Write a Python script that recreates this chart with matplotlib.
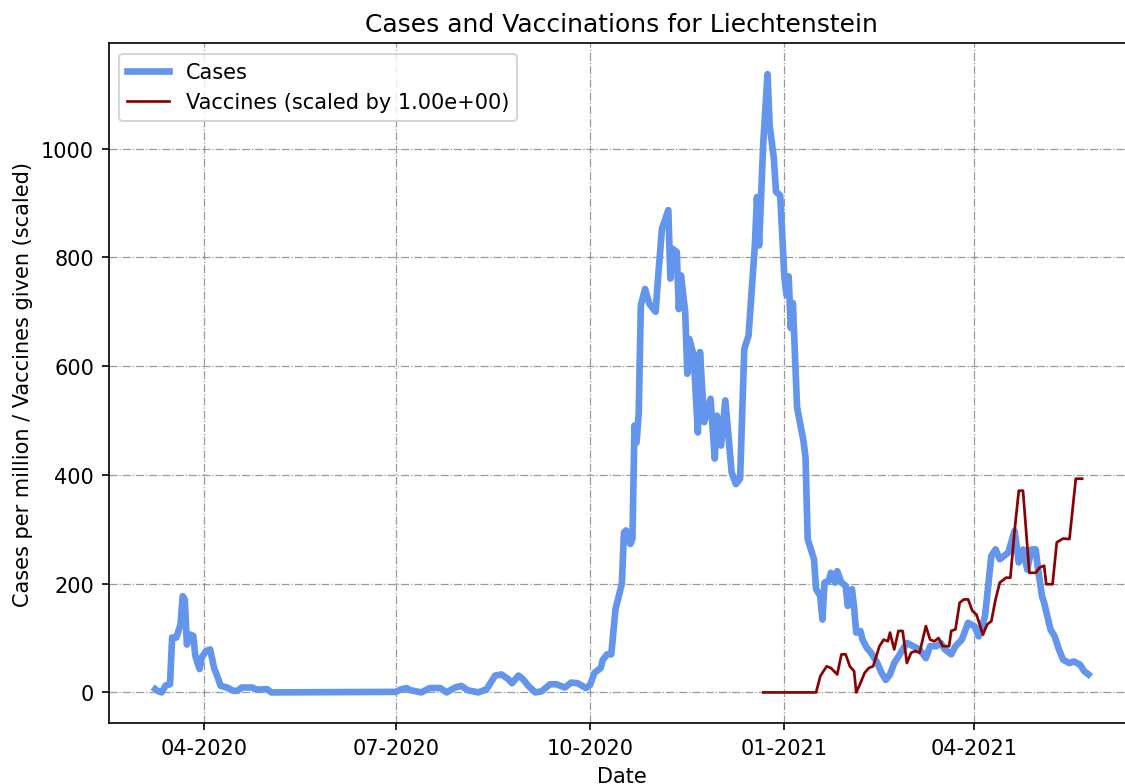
import numpy as np
import pandas as pd
import matplotlib
matplotlib.use('Agg')
import matplotlib.pyplot as plt
import matplotlib.dates as mdates

country = "Liechtenstein"
vacc_scale = 1.0

# cases per million
case_dates = [
  "2020-03-09", "2020-03-10", "2020-03-12", "2020-03-14", "2020-03-16", "2020-03-17",
  "2020-03-19", "2020-03-21", "2020-03-22", "2020-03-23", "2020-03-24", "2020-03-25",
  "2020-03-27", "2020-03-28", "2020-03-30", "2020-03-31", "2020-04-02", "2020-04-04",
  "2020-04-06", "2020-04-07", "2020-04-09", "2020-04-12", "2020-04-15", "2020-04-17",
  "2020-04-19", "2020-04-24", "2020-04-26", "2020-05-01", "2020-05-03", "2020-07-01",
  "2020-07-03", "2020-07-06", "2020-07-08", "2020-07-13", "2020-07-17", "2020-07-22",
  "2020-07-25", "2020-07-29", "2020-08-01", "2020-08-04", "2020-08-09", "2020-08-13",
  "2020-08-17", "2020-08-20", "2020-08-23", "2020-08-25", "2020-08-28", "2020-08-30",
  "2020-09-02", "2020-09-05", "2020-09-08", "2020-09-12", "2020-09-15", "2020-09-19",
  "2020-09-22", "2020-09-25", "2020-09-29", "2020-10-01", "2020-10-03", "2020-10-06",
  "2020-10-07", "2020-10-09", "2020-10-11", "2020-10-13", "2020-10-16", "2020-10-17",
  "2020-10-18", "2020-10-20", "2020-10-21", "2020-10-22", "2020-10-23", "2020-10-24",
  "2020-10-25", "2020-10-27", "2020-10-29", "2020-11-01", "2020-11-02", "2020-11-04",
  "2020-11-07", "2020-11-08", "2020-11-09", "2020-11-11", "2020-11-12", "2020-11-13",
  "2020-11-15", "2020-11-16", "2020-11-17", "2020-11-19", "2020-11-21", "2020-11-22",
  "2020-11-24", "2020-11-27", "2020-11-29", "2020-11-30", "2020-12-02", "2020-12-04",
  "2020-12-07", "2020-12-09", "2020-12-11", "2020-12-13", "2020-12-15", "2020-12-18",
  "2020-12-19", "2020-12-20", "2020-12-22", "2020-12-24", "2020-12-25", "2020-12-27",
  "2020-12-28", "2020-12-30", "2021-01-01", "2021-01-02", "2021-01-03", "2021-01-04",
  "2021-01-05", "2021-01-07", "2021-01-10", "2021-01-11", "2021-01-12", "2021-01-14",
  "2021-01-15", "2021-01-16", "2021-01-18", "2021-01-19", "2021-01-20", "2021-01-22",
  "2021-01-23", "2021-01-25", "2021-01-26", "2021-01-28", "2021-01-30", "2021-01-31",
  "2021-02-02", "2021-02-03", "2021-02-04", "2021-02-06", "2021-02-07", "2021-02-09",
  "2021-02-11", "2021-02-14", "2021-02-16", "2021-02-18", "2021-02-20", "2021-02-22",
  "2021-02-24", "2021-02-26", "2021-02-28", "2021-03-03", "2021-03-06", "2021-03-09",
  "2021-03-11", "2021-03-14", "2021-03-16", "2021-03-18", "2021-03-21", "2021-03-23",
  "2021-03-26", "2021-03-29", "2021-04-01", "2021-04-03", "2021-04-06", "2021-04-09",
  "2021-04-11", "2021-04-13", "2021-04-15", "2021-04-17", "2021-04-20", "2021-04-22",
  "2021-04-24", "2021-04-26", "2021-04-28", "2021-04-30", "2021-05-01", "2021-05-03",
  "2021-05-04", "2021-05-07", "2021-05-09", "2021-05-11", "2021-05-13", "2021-05-16",
  "2021-05-18", "2021-05-21", "2021-05-23", "2021-05-25",
]
case_values = [
  6, 3, 0, 13, 15, 101,
  101, 125, 177, 171, 88, 107,
  104, 67, 43, 64, 76, 79,
  43, 34, 12, 9, 3, 3,
  9, 9, 5, 6, 0, 1,
  5, 8, 4, 0, 8, 8,
  0, 9, 12, 4, 0, 6,
  31, 33, 25, 17, 31, 25,
  11, 0, 2, 15, 15, 9,
  18, 17, 8, 14, 36, 45,
  60, 70, 70, 153, 200, 294,
  298, 273, 282, 491, 460, 515,
  712, 742, 715, 700, 755, 853,
  887, 761, 816, 810, 705, 767,
  700, 586, 650, 620, 478, 626,
  497, 540, 430, 509, 454, 537,
  405, 383, 393, 632, 656, 822,
  911, 822, 1012, 1137, 1043, 982,
  921, 914, 762, 731, 765, 670,
  716, 524, 463, 432, 282, 257,
  245, 190, 177, 134, 202, 205,
  220, 202, 223, 202, 196, 159,
  190, 156, 110, 113, 97, 82,
  73, 54, 36, 23, 33, 54,
  66, 79, 91, 85, 79, 63,
  85, 85, 91, 79, 70, 85,
  97, 128, 122, 103, 140, 251,
  263, 245, 251, 257, 297, 239,
  263, 226, 263, 263, 230, 177,
  165, 116, 103, 79, 60, 54,
  57, 51, 39, 33,
]

# vaccines given per day
vacc_dates = [
  "2020-12-22", "2021-01-16", "2021-01-18", "2021-01-21", "2021-01-23", "2021-01-26",
  "2021-01-28", "2021-01-30", "2021-02-01", "2021-02-03", "2021-02-04", "2021-02-06",
  "2021-02-08", "2021-02-10", "2021-02-12", "2021-02-15", "2021-02-17", "2021-02-19",
  "2021-02-20", "2021-02-22", "2021-02-24", "2021-02-26", "2021-02-28", "2021-03-02",
  "2021-03-04", "2021-03-06", "2021-03-09", "2021-03-11", "2021-03-13", "2021-03-15",
  "2021-03-17", "2021-03-20", "2021-03-21", "2021-03-23", "2021-03-25", "2021-03-27",
  "2021-03-29", "2021-03-31", "2021-04-02", "2021-04-05", "2021-04-07", "2021-04-09",
  "2021-04-11", "2021-04-13", "2021-04-16", "2021-04-18", "2021-04-20", "2021-04-22",
  "2021-04-24", "2021-04-27", "2021-04-30", "2021-05-02", "2021-05-04", "2021-05-05",
  "2021-05-08", "2021-05-10", "2021-05-13", "2021-05-16", "2021-05-19", "2021-05-22",
]
vacc_values = [
  0, 0, 30, 48, 45, 33,
  70, 70, 48, 39, 0, 17,
  36, 45, 48, 85, 97, 94,
  110, 79, 113, 113, 54, 73,
  76, 73, 122, 97, 94, 100,
  85, 85, 113, 116, 165, 171,
  171, 150, 143, 106, 125, 131,
  171, 202, 211, 211, 297, 371,
  371, 220, 220, 230, 233, 199,
  199, 276, 283, 282, 393, 393,
]

cases = pd.Series(case_values, index=pd.to_datetime(case_dates))
vaccs = pd.Series(vacc_values, index=pd.to_datetime(vacc_dates)) * vacc_scale

fig, ax = plt.subplots(figsize=(7.5, 5.2333), dpi=150)
ax.plot(cases.index, cases.values, color='cornflowerblue', linewidth=3.2, label='Cases')
ax.plot(vaccs.index, vaccs.values, color='darkred', linewidth=1.3,
        label='Vaccines (scaled by %.2e)' % vacc_scale)

ax.xaxis.set_major_locator(mdates.MonthLocator(bymonth=[1, 4, 7, 10]))
ax.xaxis.set_major_formatter(mdates.DateFormatter('%m-%Y'))
ax.grid(True, linestyle='-.', color='gray', alpha=0.8, linewidth=0.6)
ax.set_title('Cases and Vaccinations for ' + country)
ax.set_xlabel('Date')
ax.set_ylabel('Cases per million / Vaccines given (scaled)')
ax.legend(loc='upper left')
# the original figure is cut off on the right, axes run past the edge
fig.subplots_adjust(left=0.0965, right=1.009, top=0.9436, bottom=0.0773)
fig.savefig('out.png')
